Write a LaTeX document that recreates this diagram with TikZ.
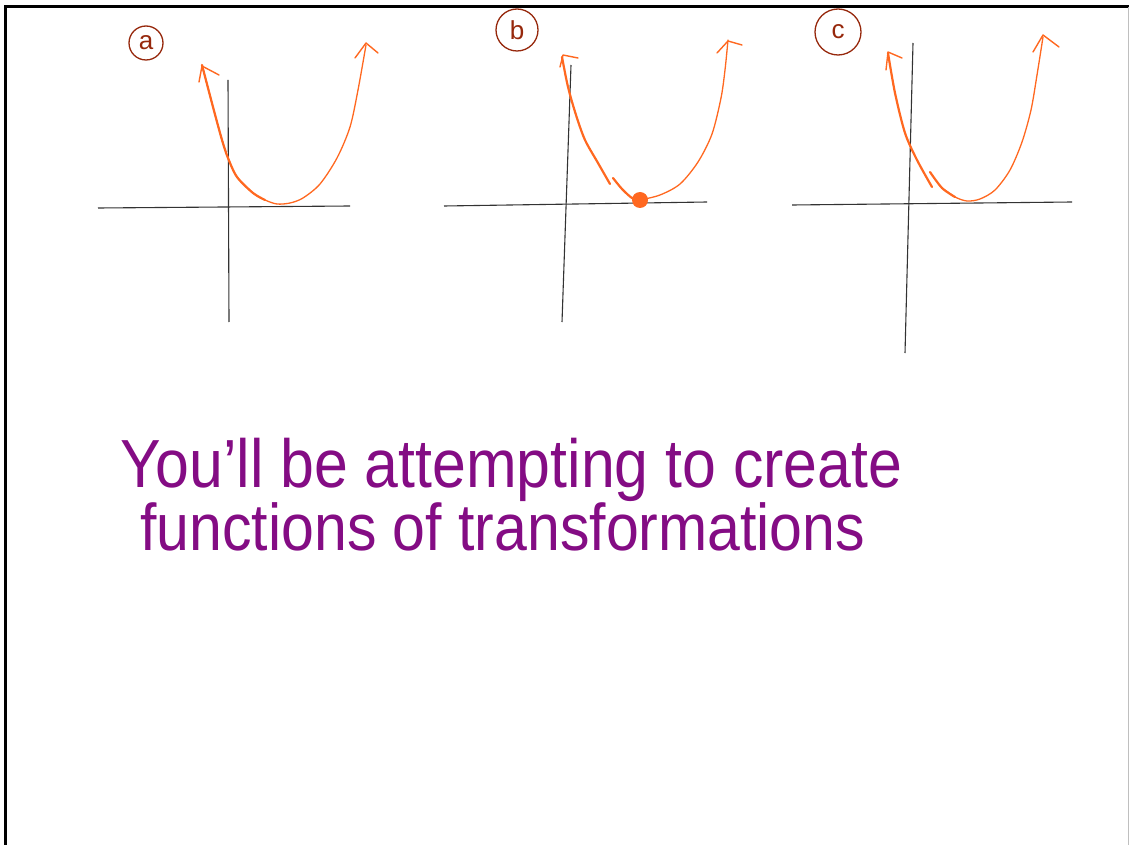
\documentclass[tikz,border=0pt]{standalone}
\usepackage{fontspec}
\setmainfont{Liberation Sans}
\usepackage{graphicx}
\usetikzlibrary{arrows.meta,positioning}
\definecolor{curve}{RGB}{255,104,32}
\definecolor{tagred}{RGB}{150,40,12}
\definecolor{ink}{RGB}{132,12,132}

\begin{document}
\begin{tikzpicture}[x=0.5pt, y=-0.5pt,
  axis/.style={draw=black!80, line width=0.55pt},
  curvel/.style={draw=curve, line width=1.1pt, line cap=round, line join=round},
  curver/.style={draw=curve, line width=0.65pt, line cap=round, line join=round},
  tip/.style={draw=curve, line width=0.7pt, line cap=round, line join=round},
  tag/.style={draw=tagred, text=tagred, circle, line width=0.65pt, inner sep=0pt, font=\fontsize{13}{13}\selectfont},
  words/.style={text=ink, anchor=base west, inner sep=0pt}
]
\useasboundingbox (0,0) rectangle (1129,845);
\draw[line width=1.5pt] (5,845) -- (5,7) -- (1129,7);
\draw[black!25, line width=0.5pt] (1128,7) -- (1128,845);

% graph a
\node[tag, minimum size=17pt] (tagA) at (146,43) {a};
\draw[axis] (98,208) -- (350,206);
\draw[axis] (228,80) -- (229,322);
\draw[curver] plot[smooth] coordinates {(202,65) (213,107) (222,140) (228,158) (237,177) (253,193) (265,200) (277,204) (290,203) (303,198) (320,184) (337,158) (350,127) (358,90) (366,45)};
\draw[curvel] plot[smooth] coordinates {(202,65) (213,107) (222,140) (228,158) (237,177) (253,193) (265,200)};
\draw[tip] (199,82) -- (202,66) -- (219,75);
\draw[tip] (355,58) -- (366,43) -- (378,53);

% graph b
\node[tag, minimum size=21pt] (tagB) at (517,30) {b};
\draw[axis] (444,206) -- (707,202);
\draw[axis] (571,65) -- (562,322);
\draw[curvel] plot[smooth] coordinates {(562,57) (568,87) (576,115) (585,140) (598,163) (610,184)};
\draw[curvel] plot[smooth] coordinates {(613,178) (622,189) (632,198) (640,200)};
\draw[curver] plot[smooth] coordinates {(640,200) (660,195) (680,184) (698,162) (712,134) (721,98) (725,70) (728,40)};
\draw[tip] (560,67) -- (563,55) -- (578,58);
\draw[tip] (717,53) -- (728,41) -- (742,45);
\node[circle, fill=curve, minimum size=8pt, inner sep=0pt] (vertexB) at (640,200) {};

% graph c
\node[tag, minimum size=23pt] (tagC) at (838,32) {c};
\draw[axis] (792,205) -- (1072,202);
\draw[axis] (913,43) -- (905,353);
\draw[curvel] plot[smooth] coordinates {(888,53) (895,93) (905,133) (917,160) (932,187)};
\draw[curvel] plot[smooth] coordinates {(930,172) (942,188) (955,197)};
\draw[curver] plot[smooth] coordinates {(942,188) (955,197) (967,201) (980,199) (995,190) (1010,170) (1022,142) (1031,110) (1037,75) (1043,37)};
\draw[tip] (886,70) -- (888,52) -- (902,58);
\draw[tip] (1033,52) -- (1043,35) -- (1059,47);

\node[words, font=\fontsize{30.4}{30}\selectfont] (lineA) at (120,487) {\scalebox{1}[1.12]{You'll be attempting to create}};
\node[words, font=\fontsize{29.5}{30}\selectfont] (lineB) at (140,550) {\scalebox{1}[1.12]{functions of transformations}};
\end{tikzpicture}
\end{document}
